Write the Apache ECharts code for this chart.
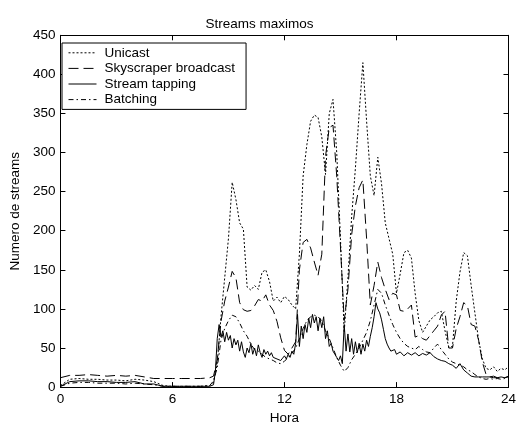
<!DOCTYPE html>
<html>
<head>
<meta charset="utf-8">
<script src="https://cdn.jsdelivr.net/npm/echarts@6/dist/echarts.min.js"></script>
<style>html,body{margin:0;padding:0;background:#fff}#c{width:519px;height:430px}</style>
</head>
<body>
<div id="c"></div>
<script>
const hours = [0,0.5,1,1.5,2,2.5,3,3.5,4,4.5,5,5.5,6,6.5,7,7.5,8,
  8.2,8.4,8.6,8.8,9,9.2,9.4,9.6,9.8,10,
  10.2,10.4,10.6,10.8,11,11.2,11.4,11.6,11.8,12,
  12.2,12.4,12.6,12.8,13,13.2,13.4,13.6,13.8,14,
  14.2,14.4,14.6,14.8,15,15.2,15.4,15.6,15.8,16,
  16.2,16.4,16.6,16.8,17,17.2,17.4,17.6,17.8,18,
  18.2,18.4,18.6,18.8,19,19.2,19.4,19.6,19.8,20,
  20.2,20.4,20.6,20.8,21,21.2,21.4,21.6,21.8,22,
  22.2,22.4,22.6,22.8,23,23.2,23.4,23.6,23.8,24];
const unicast = [2,10,11,10,10,9,9,8,10,9,7,2,1,1,1,1,2,
  6,30,90,140,190,262,240,210,202,128,
  124,130,125,147,150,135,110,115,108,116,
  112,105,100,170,270,310,340,348,345,320,
  272,350,368,300,190,70,140,218,280,350,
  415,340,270,245,294,260,210,190,170,120,
  145,172,175,165,120,85,70,78,86,90,
  95,97,72,51,52,110,147,172,168,130,
  95,60,36,24,22,26,20,24,22,26];
const skyscraper = [12,15,15,16,15,14,15,14,15,13,11,11,11,11,11,11,12,
  14,35,84,110,128,148,140,108,99,97,
  98,104,112,110,118,105,98,84,63,47,
  42,50,58,150,185,189,178,160,143,170,
  295,332,335,270,180,85,125,195,232,255,
  265,190,105,130,160,140,125,112,120,118,
  98,97,100,105,64,66,62,60,66,72,
  78,92,97,50,50,75,90,108,104,80,
  78,60,32,16,13,14,12,11,12,14];
const batching = [1,5,6,6,5,5,5,4,5,4,3,1,1,1,1,1,2,
  8,25,60,75,85,92,90,82,72,65,
  55,48,46,42,38,36,34,31,30,33,
  38,43,50,62,75,85,90,92,90,85,
  72,62,50,38,28,20,25,35,42,50,
  60,70,85,105,125,120,105,92,80,70,
  62,56,52,50,48,52,48,45,44,50,
  55,48,42,36,32,30,28,26,22,20,
  16,13,11,10,11,10,11,10,11,12];
// Stream tapping is read at a finer step because the trace is very noisy
const tapHours = [0,0.5,1,1.5,2,2.5,3,3.5,4,4.5,5,5.5,6,6.5,7,7.5,8,
  8.1,8.2,8.3,8.4,8.5,8.6,8.7,8.8,8.9,9,
  9.1,9.2,9.3,9.4,9.5,9.6,9.7,9.8,9.9,10,
  10.1,10.2,10.3,10.4,10.5,10.6,10.7,10.8,10.9,11,
  11.1,11.2,11.3,11.4,11.5,11.6,11.7,11.8,11.9,12,
  12.1,12.2,12.3,12.4,12.5,12.6,12.7,12.8,12.9,13,
  13.1,13.2,13.3,13.4,13.5,13.6,13.7,13.8,13.9,14,
  14.1,14.2,14.3,14.4,14.5,14.6,14.7,14.8,14.9,15,
  15.1,15.2,15.3,15.4,15.5,15.6,15.7,15.8,15.9,16,
  16.1,16.2,16.3,16.4,16.5,16.6,16.7,16.8,16.9,17,
  17.1,17.2,17.3,17.4,17.5,17.6,17.7,17.8,17.9,18,
  18.2,18.4,18.6,18.8,19,19.2,19.4,19.6,19.8,20,
  20.2,20.4,20.6,20.8,21,21.2,21.4,21.6,21.8,22,
  22.2,22.4,22.6,22.8,23,23.2,23.4,23.6,23.8,24];
const tapping = [1,7,8,8,7,7,6,6,7,4,4,1,1,1,1,1,1,
  2,3,20,62,80,64,72,58,70,60,
  66,50,62,54,60,46,58,45,38,50,
  44,56,42,50,40,54,44,38,48,42,
  46,40,44,38,40,36,38,34,37,40,
  36,42,38,46,42,56,93,52,78,62,
  80,70,88,76,93,82,90,72,88,76,
  90,62,72,52,56,46,42,38,34,40,
  30,80,46,68,45,62,42,58,44,56,
  42,55,46,60,52,65,76,90,108,100,
  95,86,74,62,55,50,46,44,48,42,
  45,40,44,41,44,40,43,41,44,39,
  36,34,33,30,28,24,30,22,18,14,
  13,13,13,13,13,12,12,13,12,13];
const seriesNames = ['Unicast','Skyscraper broadcast','Stream tapping','Batching'];
const xTicks = [0,6,12,18,24];
const yTicks = [0,50,100,150,200,250,300,350,400,450];

const FONT = 'Liberation Sans, Arial, sans-serif';
const FS = 13.5;
const dashes = [[2,2],[10,5],'solid',[5,3,1.5,3]];
const xList = [hours, hours, tapHours, hours];
const valuesList = [unicast, skyscraper, tapping, batching];

const chart = echarts.init(document.getElementById('c'), null, {renderer:'canvas'});
const axisCommon = {
  axisLine:{show:true, onZero:false, lineStyle:{color:'#000', width:1}},
  axisTick:{show:true, inside:true, length:5, lineStyle:{color:'#000'}},
  splitLine:{show:false}
};
chart.setOption({
  animation:false,
  backgroundColor:'#fff',
  textStyle:{fontFamily:FONT},
  title:{text:'Streams maximos', left:'center', top:12,
    textStyle:{fontFamily:FONT, fontSize:FS, fontWeight:'normal', color:'#000'}},
  grid:{left:55, right:7.5, top:35.3, bottom:36.3, show:false},
  legend:{
    orient:'vertical', left:62, top:43,
    data:seriesNames.map(n=>({name:n, itemStyle:{opacity:0}})),
    backgroundColor:'#fff', borderColor:'#000', borderWidth:1,
    padding:[2,11,2,6], itemGap:0, itemWidth:28, itemHeight:15.6,
    itemStyle:{opacity:0},
    lineStyle:{width:1},
    textStyle:{fontFamily:FONT, fontSize:FS, color:'#000', lineHeight:15.6, padding:[0,0,0,3]}
  },
  xAxis:[
    Object.assign({type:'value', min:0, max:24, interval:6, position:'bottom',
      name:'Hora', nameLocation:'middle', nameGap:20,
      nameTextStyle:{fontFamily:FONT, fontSize:FS, color:'#000'},
      axisLabel:{color:'#000', fontFamily:FONT, fontSize:FS, margin:5,
        formatter:v=>xTicks.includes(v)?String(v):''}}, axisCommon),
    Object.assign({type:'value', min:0, max:24, interval:6, position:'top',
      axisLabel:{show:false}}, axisCommon)
  ],
  yAxis:[
    Object.assign({type:'value', min:0, max:450, interval:50, position:'left',
      name:'Numero de streams', nameLocation:'middle', nameGap:32,
      nameTextStyle:{fontFamily:FONT, fontSize:FS, color:'#000'},
      axisLabel:{color:'#000', fontFamily:FONT, fontSize:FS, margin:5,
        formatter:v=>yTicks.includes(v)?String(v):''}}, axisCommon),
    Object.assign({type:'value', min:0, max:450, interval:50, position:'right',
      axisLabel:{show:false}}, axisCommon)
  ],
  series: seriesNames.map((name,k)=>({
    name, type:'line', xAxisIndex:0, yAxisIndex:0,
    data: xList[k].map((h,i)=>[h, valuesList[k][i]]),
    showSymbol:false, symbol:'none', smooth:false,
    lineStyle:{color:'#000', width:1, type:dashes[k]},
    itemStyle:{color:'#000'}
  }))
});
</script>
</body>
</html>
